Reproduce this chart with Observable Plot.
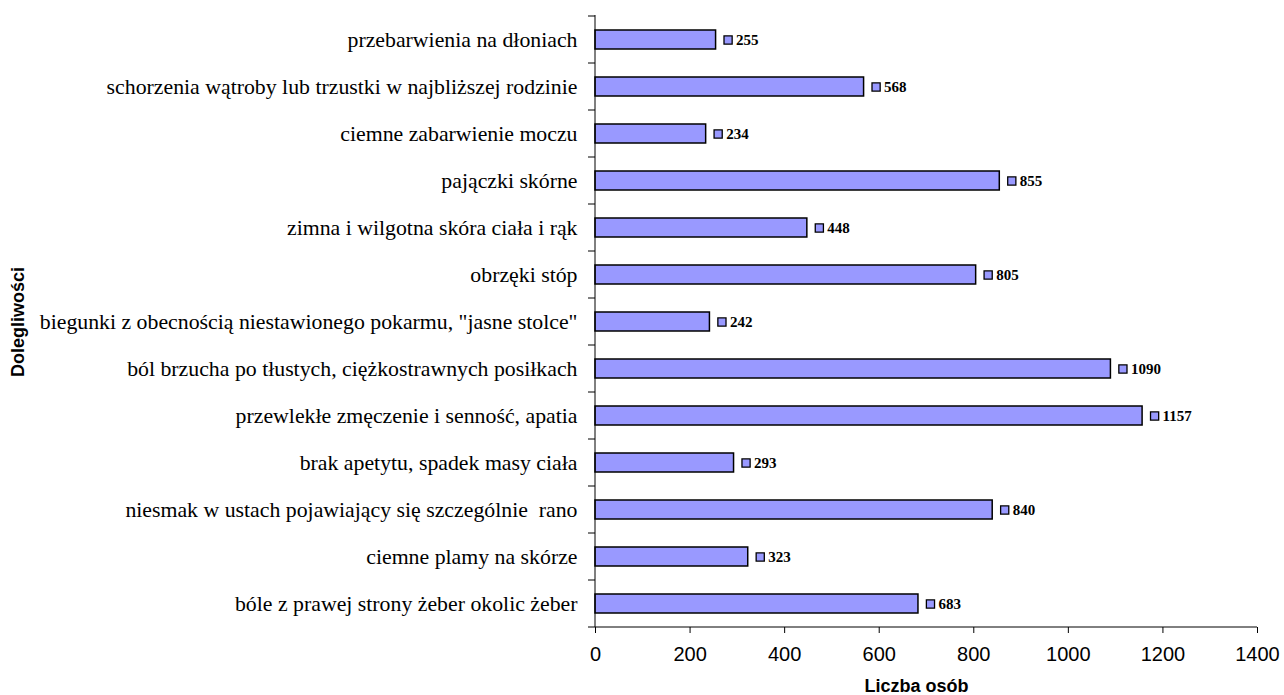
<!DOCTYPE html>
<html>
<head>
<meta charset="utf-8">
<script src="https://cdn.jsdelivr.net/npm/d3@7"></script>
<script src="https://cdn.jsdelivr.net/npm/@observablehq/plot@0.6"></script>
<style>
  html, body { margin: 0; padding: 0; background: #fff; }
  #chart svg { display: block; }
</style>
</head>
<body>
<div id="chart"></div>
<script>
const categories = [
  "przebarwienia na dłoniach",
  "schorzenia wątroby lub trzustki w najbliższej rodzinie",
  "ciemne zabarwienie moczu",
  "pajączki skórne",
  "zimna i wilgotna skóra ciała i rąk",
  "obrzęki stóp",
  "biegunki z obecnością niestawionego pokarmu, \"jasne stolce\"",
  "ból brzucha po tłustych, ciężkostrawnych posiłkach",
  "przewlekłe zmęczenie i senność, apatia",
  "brak apetytu, spadek masy ciała",
  "niesmak w ustach pojawiający się szczególnie  rano",
  "ciemne plamy na skórze",
  "bóle z prawej strony żeber okolic żeber"
];
const values = [255, 568, 234, 855, 448, 805, 242, 1090, 1157, 293, 840, 323, 683];
const xTicks = [0, 200, 400, 600, 800, 1000, 1200, 1400];
const xTitle = "Liczba osób";
const yTitle = "Dolegliwości";

const data = categories.map((c, i) => ({category: c, value: values[i]}));

const BAR = "#9999FF";
const SERIF = "'Liberation Serif', 'Times New Roman', serif";
const SANS = "'Liberation Sans', Arial, sans-serif";

// Axis lines and ticks placed at band boundaries (as in the original)
function bandAxes(index, scales, vals, dims) {
  const y = scales.y, x = scales.x;
  const top = dims.marginTop, bottom = dims.height - dims.marginBottom;
  const x0 = x(0);
  const step = typeof y.step === "function" ? y.step() : (bottom - top) / categories.length;
  const bw = typeof y.bandwidth === "function" ? y.bandwidth() : step * 0.4;
  const g = d3.create("svg:g").attr("stroke", "#000").attr("stroke-width", 1).attr("fill", "none");
  g.append("line").attr("x1", x0).attr("x2", x0).attr("y1", top - 1).attr("y2", bottom);
  g.append("line").attr("x1", x0).attr("x2", x(xTicks[xTicks.length - 1])).attr("y1", bottom).attr("y2", bottom);
  const bounds = categories.map(c => y(c) - (step - bw) / 2);
  bounds.push(bounds[bounds.length - 1] + step);
  for (const b of bounds) {
    g.append("line").attr("x1", x0 - 7).attr("x2", x0).attr("y1", b).attr("y2", b);
  }
  return g.node();
}

const chart = Plot.plot({
  width: 1284,
  height: 695,
  marginLeft: 595,
  marginRight: 27,
  marginTop: 16,
  marginBottom: 68,
  style: {background: "#fff", color: "#000"},
  x: {domain: [0, 1400]},
  y: {domain: categories, paddingInner: 0.6, paddingOuter: 0.3},
  marks: [
    Plot.barX(data, {
      x: "value", y: "category",
      fill: BAR, stroke: "#000", strokeWidth: 1.5
    }),
    bandAxes,
    Plot.axisX({
      ticks: xTicks, tickSize: 6, tickPadding: 13, tickFormat: d => String(d),
      fontSize: 20, fontFamily: SANS, label: null, stroke: "#000"
    }),
    Plot.axisY({
      tickSize: 0, tickPadding: 18,
      fontSize: 21.8, fontFamily: SERIF, label: null
    }),
    Plot.dot(data, {
      x: "value", y: "category", dx: 12,
      symbol: "square", r: 4.6,
      fill: BAR, stroke: "#000", strokeWidth: 1.3
    }),
    Plot.text(data, {
      x: "value", y: "category", text: d => String(d.value),
      dx: 20, textAnchor: "start",
      fontSize: 15, fontWeight: "bold", fontFamily: SERIF, fill: "#000"
    }),
    Plot.text([xTitle], {
      frameAnchor: "bottom", lineAnchor: "middle", dx: -10, dy: 59,
      fontSize: 18, fontWeight: "bold", fontFamily: SANS, fill: "#000"
    }),
    Plot.text([yTitle], {
      frameAnchor: "left", dx: -577, rotate: -90, textAnchor: "middle",
      fontSize: 18, fontWeight: "bold", fontFamily: SANS, fill: "#000"
    })
  ]
});

document.getElementById("chart").appendChild(chart);
</script>
</body>
</html>
